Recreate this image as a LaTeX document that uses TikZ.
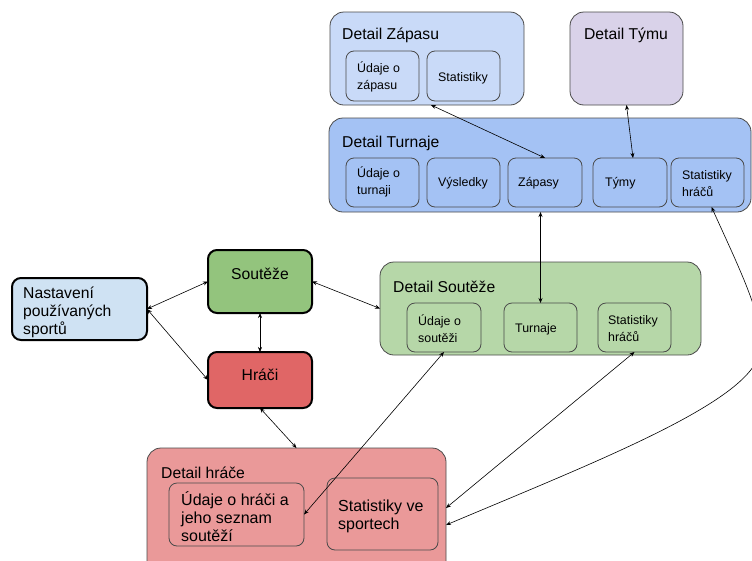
\documentclass[tikz,border=0pt]{standalone}
\usepackage{fontspec}
\setmainfont{Liberation Sans}
\usetikzlibrary{arrows.meta,calc}

\definecolor{zapasfill}{HTML}{C9DAF8}
\definecolor{tymfill}{HTML}{D9D2E9}
\definecolor{turnajfill}{HTML}{A4C2F4}
\definecolor{soutezfill}{HTML}{93C47D}
\definecolor{nastavfill}{HTML}{CFE2F3}
\definecolor{hracfill}{HTML}{E06666}
\definecolor{dsoutezfill}{HTML}{B6D7A8}
\definecolor{dhracfill}{HTML}{EA9999}
\definecolor{edgegray}{HTML}{4A4A4A}

% box from its corners: style, name, x1, y1, x2, y2 (pixel-like units, y down)
\newcommand{\mkbox}[6]{%
  \node[#1, minimum width={(#5-#3)*1pt}, minimum height={(#6-#4)*1pt}]
    (#2) at ({(#3+#5)/2},{(#4+#6)/2}) {};}

\tikzset{
  boxbase/.style={inner sep=0pt, outer sep=0pt},
  outerbox/.style={boxbase, draw=edgegray, line width=0.8pt, rounded corners=14pt},
  innerbox/.style={boxbase, draw=edgegray, line width=0.8pt, rounded corners=8pt},
  mainbox/.style={boxbase, draw=black, line width=2pt, rounded corners=9pt},
  titletext/.style={anchor=west, inner sep=0pt, yshift=-1.5pt, font=\fontsize{15.7}{18}\selectfont},
  maintext/.style={inner sep=0pt, yshift=-1.5pt, font=\fontsize{15.7}{18}\selectfont},
  smalltext/.style={anchor=west, inner sep=0pt, yshift=-1pt, align=left, font=\fontsize{12.4}{17}\selectfont},
  bigtext/.style={anchor=west, inner sep=0pt, yshift=-1.5pt, align=left, font=\fontsize{16}{18.2}\selectfont},
  link/.style={line width=0.6pt, {Stealth[length=5pt,width=4pt]}-{Stealth[length=5pt,width=4pt]}},
}

\begin{document}
\begin{tikzpicture}[x=1pt, y=-1pt]
\useasboundingbox (0,0) rectangle (752,560);

% outer panels
\mkbox{outerbox, fill=zapasfill}{dzapas}{330}{12}{524}{105}
\mkbox{outerbox, fill=tymfill}{dtym}{570}{12}{683}{105}
\mkbox{outerbox, fill=turnajfill}{dturnaj}{329}{118}{751}{212}
\mkbox{outerbox, fill=dsoutezfill}{dsoutez}{380}{262}{701}{355}
\mkbox{outerbox, fill=dhracfill}{dhrac}{147}{448}{446}{580}

% parts of Detail Zápasu
\mkbox{innerbox, fill=zapasfill}{zudaje}{346}{51}{419}{101}
\mkbox{innerbox, fill=zapasfill}{zstat}{427}{51}{500}{101}

% parts of Detail Turnaje
\mkbox{innerbox, fill=turnajfill}{tudaje}{346}{158}{419}{207}
\mkbox{innerbox, fill=turnajfill}{tvysl}{427}{158}{500}{207}
\mkbox{innerbox, fill=turnajfill}{tzapasy}{508}{158}{582}{207}
\mkbox{innerbox, fill=turnajfill}{ttymy}{593}{158}{667}{207}
\mkbox{innerbox, fill=turnajfill}{tstat}{671}{158}{744}{207}

% parts of Detail Soutěže
\mkbox{innerbox, fill=dsoutezfill}{sudaje}{407}{303}{481}{352}
\mkbox{innerbox, fill=dsoutezfill}{sturnaje}{504}{303}{577}{352}
\mkbox{innerbox, fill=dsoutezfill}{sstat}{598}{303}{671}{352}

% parts of Detail hráče
\mkbox{innerbox, fill=dhracfill}{hudaje}{169}{483}{304}{546}
\mkbox{innerbox, fill=dhracfill}{hstat}{327}{478}{438}{550}

% main screens
\mkbox{mainbox, fill=nastavfill}{nastav}{12}{278}{147}{340}
\mkbox{mainbox, fill=soutezfill}{soutez}{208}{250}{312}{313}
\mkbox{mainbox, fill=hracfill}{hraci}{208}{352}{312}{408}

% connectors
\draw[link] (nastav.east) -- (soutez.west);
\draw[link] (nastav.east) -- (hraci.west);
\draw[link] (soutez.south) -- (hraci.north);
\draw[link] (soutez.east) -- (dsoutez.west);
\draw[link] (hraci.south) -- (dhrac.north);
\draw[link] (sudaje.south) -- (hudaje.east);
\draw[link] (sstat.south) -- ([yshift=6pt]dhrac.east);
\draw[link] (dturnaj.south -| sturnaje.north) -- (sturnaje.north);
\draw[link] ([xshift=4pt]dzapas.south) -- (tzapasy.north);
\draw[link] (dtym.south) -- ([xshift=3pt]ttymy.north);
\draw[link] ([xshift=4pt]tstat.south)
  .. controls (740,270) and (765,320) .. (760,350)
  .. controls (755,400) and (600,460) .. ([yshift=-11pt]dhrac.east);

% labels
\node[titletext] (tzapas) at (342,34) {Detail Zápasu};
\node[maintext] (ttym) at (626,34) {Detail Týmu};
\node[titletext] (tturnaj) at (342,142) {Detail Turnaje};
\node[titletext] (tsoutez) at (393,285) {Detail Soutěže};
\node[titletext] (thrac) at (161,471) {Detail hráče};

\node[smalltext] (lzudaje) at (357,76) {Údaje o\\zápasu};
\node[smalltext] (lzstat) at (438,77) {Statistiky};

\node[smalltext] (ltudaje) at (357,181) {Údaje o\\turnaji};
\node[smalltext] (ltvysl) at (438,182) {Výsledky};
\node[smalltext] (ltzapasy) at (518,182) {Zápasy};
\node[smalltext] (lttymy) at (605,182) {Týmy};
\node[smalltext] (ltstat) at (682,183) {Statistiky\\hráčů};

\node[smalltext] (lsudaje) at (418,328) {Údaje o\\soutěži};
\node[smalltext] (lsturnaje) at (515,328) {Turnaje};
\node[smalltext] (lsstat) at (608,328) {Statistiky\\hráčů};

\node[bigtext] (lhudaje) at (181,515) {Údaje o hráči a\\jeho seznam\\soutěží};
\node[bigtext] (lhstat) at (338,515) {Statistiky ve\\sportech};

\node[maintext, anchor=west, align=left] (lnastav) at (23,311) {Nastavení\\používaných\\sportů};
\node[maintext] (lsoutez) at (260,272) {Soutěže};
\node[maintext] (lhraci) at (260,373) {Hráči};
\end{tikzpicture}
\end{document}
